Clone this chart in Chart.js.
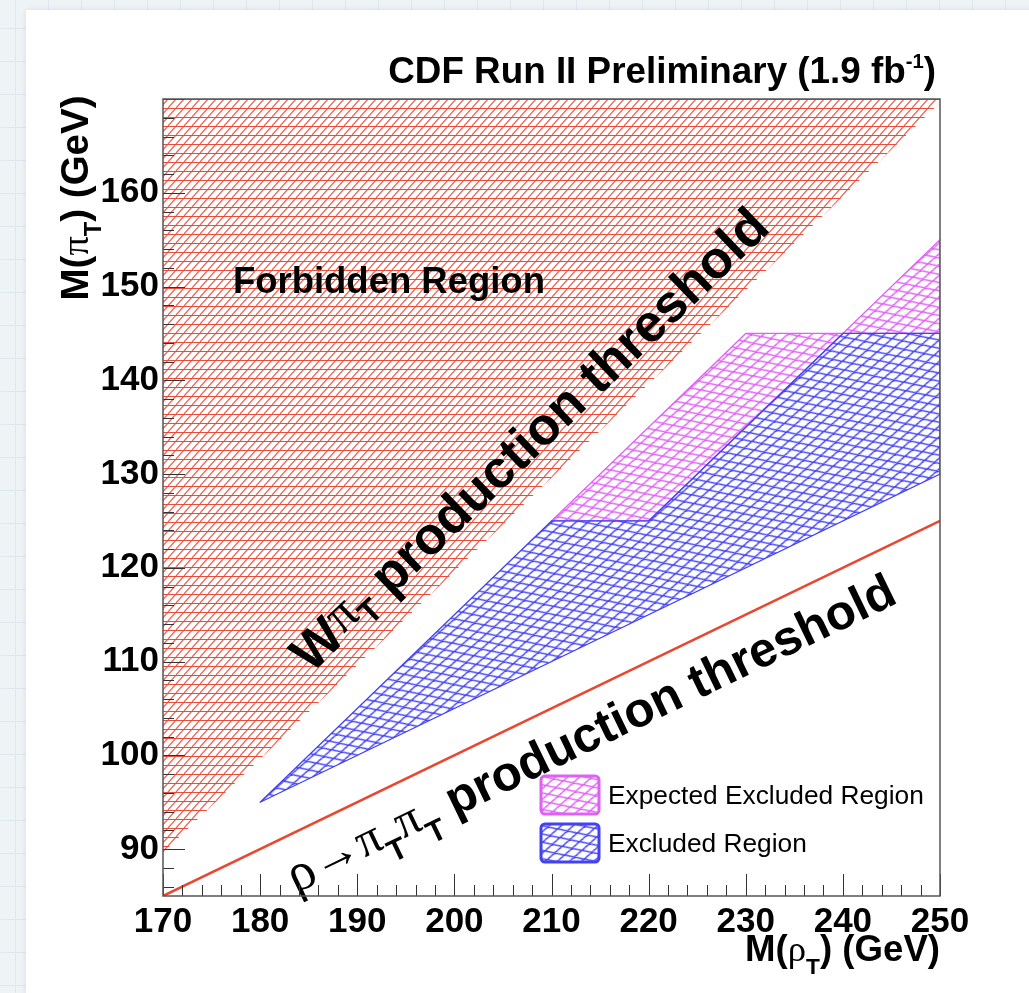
<!DOCTYPE html>
<html><head><meta charset="utf-8">
<script src="https://cdn.jsdelivr.net/npm/chart.js@4.4.0/dist/chart.umd.min.js"></script>
<style>
html,body{margin:0;padding:0;}
body{width:1029px;height:993px;overflow:hidden;position:relative;
 background-color:#eef3f5;
 background-image:linear-gradient(#dce9ef 1px,transparent 1px),linear-gradient(90deg,#dce9ef 1px,transparent 1px);
 background-size:33px 33px;background-position:15px 28px;}
#panel{position:absolute;left:26px;top:10px;width:1010px;height:1000px;background:#fff;box-shadow:0 0 5px rgba(0,0,0,0.10);}
#wrap{position:absolute;left:0;top:0;width:1029px;height:993px;}
</style></head>
<body><div id="panel"></div><div id="wrap"><canvas id="c" width="1029" height="993"></canvas></div>
<script>
// ---------- data ----------
const xRange = [170, 250];
const yRange = [85, 170];
const xTickLabels = [170, 180, 190, 200, 210, 220, 230, 240, 250];
const yTickLabels = [90, 100, 110, 120, 130, 140, 150, 160];
// W pi_T threshold: forbidden region above M(pi_T) = M(rho_T) - M(W)
const forbiddenX = [170, 170, 250, 250];
const forbiddenY = [89.6, 170, 170, 169.6];
// rho -> pi_T pi_T threshold
const rhoThrX = [170, 250];
const rhoThrY = [85, 125];
// observed excluded region (upper and lower edges)
const obsUpperX = [180, 210, 220, 240, 250];
const obsUpperY = [95, 125, 125, 145, 145];
const obsLowerX = [250, 180];
const obsLowerY = [130, 95];
// expected excluded region, upper edge (visible part lies above observed upper edge)
const expUpperX = [210, 230, 240, 250];
const expUpperY = [125, 145, 145, 155];
const legendLabels = ['Expected Excluded Region', 'Excluded Region'];

const pts = (xs, ys) => xs.map((x, i) => ({x, y: ys[i]}));
const forbiddenPoly = pts(forbiddenX, forbiddenY);
const obsPoly = pts(obsUpperX, obsUpperY).concat(pts(obsLowerX, obsLowerY).slice(0, -1));
const expPoly = pts(expUpperX, expUpperY).concat(pts(obsUpperX, obsUpperY).filter(p => p.x >= expUpperX[0]).reverse().slice(0, -1));

// ---------- styles ----------
const SANS = '"Liberation Sans", Arial, Helvetica, sans-serif';
const SERIF = '"Liberation Serif", "DejaVu Serif", serif';
const RED = 'rgb(232,72,50)';
const MAG = 'rgb(222,96,244)';
const BLUE = 'rgb(66,66,242)';

const canvas = document.getElementById('c');
const ctx = canvas.getContext('2d');

function makePattern(w, h, draw, m) {
  const c = document.createElement('canvas'); c.width = w; c.height = h;
  const g = c.getContext('2d'); draw(g, w, h);
  const p = ctx.createPattern(c, 'repeat');
  if (m) p.setTransform(m);
  return p;
}
const redPat = makePattern(8, 9, (g, w, h) => {
  g.lineWidth = 1.2;
  g.strokeStyle = 'rgba(232,70,50,0.85)';
  g.beginPath();
  for (let k = -1; k <= 1; k++) { g.moveTo(k * w, h); g.lineTo(k * w + w, 0); }
  g.stroke();
  g.lineWidth = 1;
  g.strokeStyle = 'rgba(232,70,50,0.95)';
  g.beginPath(); g.moveTo(0, 0.5); g.lineTo(w, 0.5); g.stroke();
});
function diamondPat(color) {
  return makePattern(18, 9, (g, w, h) => {
    g.lineWidth = 1.5; g.strokeStyle = color;
    g.beginPath();
    for (let k = -1; k <= 1; k++) {
      g.moveTo(k * w, 0); g.lineTo(k * w + w, h);
      g.moveTo(k * w, h); g.lineTo(k * w + w, 0);
    }
    g.stroke();
  }, new DOMMatrix().rotate(-15));
}
const magPat = diamondPat(MAG);
const bluePat = diamondPat(BLUE);

// ---------- rich text helpers ----------
const B = (t, k = 1, dy = 0) => ({t, k, dy, w: 'bold', f: SANS});
const G = (t, k = 1, dy = 0) => ({t, k, dy, w: 'normal', f: SERIF});
const R = (t, k = 1, dy = 0) => ({t, k, dy, w: 'normal', f: SANS});
function measureRich(c, segs, size) {
  let w = 0;
  for (const s of segs) { c.font = `${s.w} ${s.k * size}px ${s.f}`; w += c.measureText(s.t).width; }
  return w;
}
function drawRich(c, segs, o) {
  let size = o.size;
  if (o.width) size = size * o.width / measureRich(c, segs, size);
  const total = measureRich(c, segs, size);
  c.save();
  c.translate(o.x, o.y);
  c.rotate(o.angle || 0);
  c.fillStyle = o.color || '#000';
  c.textBaseline = 'alphabetic';
  c.textAlign = 'left';
  let cx = o.align === 'left' ? 0 : o.align === 'right' ? -total : -total / 2;
  const base = 0.36 * size;
  for (const s of segs) {
    c.font = `${s.w} ${s.k * size}px ${s.f}`;
    c.fillText(s.t, cx, base + s.dy * size);
    cx += c.measureText(s.t).width;
  }
  c.restore();
  return size;
}

function polyPath(c, meta) {
  c.beginPath();
  meta.data.forEach((p, i) => i ? c.lineTo(p.x, p.y) : c.moveTo(p.x, p.y));
  c.closePath();
}

const deco = {
  id: 'deco',
  beforeDatasetDraw(chart, args) {
    const ds = chart.data.datasets[args.index];
    if (!ds.hatch) return;
    const c = chart.ctx, A = chart.chartArea;
    c.save();
    c.beginPath(); c.rect(A.left, A.top, A.right - A.left, A.bottom - A.top); c.clip();
    polyPath(c, args.meta);
    c.fillStyle = ds.hatch; c.fill();
    if (ds.outline) { c.strokeStyle = ds.outline; c.lineWidth = 1.3; c.lineJoin = 'round'; c.stroke(); }
    c.restore();
  },
  afterDatasetsDraw(chart) {
    const c = chart.ctx, xs = chart.scales.x, ys = chart.scales.y;
    const X = v => xs.getPixelForValue(v), Y = v => ys.getPixelForValue(v);
    const ang = (x0, y0, x1, y1) => Math.atan2(Y(y1) - Y(y0), X(x1) - X(x0));
    // annotations
    drawRich(c, [B('Forbidden Region')], {x: X(177.2), y: Y(150.7), align: 'left', size: 36, width: 312});
    drawRich(c, [B('W'), G('π', 1, -0.12), B('T', 0.62, 0.12), B(' production threshold')],
      {x: X(207.6), y: Y(133.8), angle: ang(forbiddenX[0], forbiddenY[0], forbiddenX[3], forbiddenY[3]), size: 50, width: 640});
    drawRich(c, [G('ρ', 1.1), G('→', 1, -0.05), G('π', 1, -0.05), B('T', 0.62, 0.3), G('π', 1, -0.05), B('T', 0.62, 0.3), B(' production threshold')],
      {x: X(213.96), y: Y(102.5), angle: ang(rhoThrX[0], rhoThrY[0], rhoThrX[1], rhoThrY[1]), size: 44, width: 670});
    // legend
    const entries = [{pat: magPat, col: MAG}, {pat: bluePat, col: BLUE}];
    let lsize = null;
    entries.forEach((e, i) => {
      const bx = 541, by = 776 + i * 48, bw = 58, bh = 38;
      c.save();
      c.beginPath(); c.roundRect(bx, by, bw, bh, 4);
      c.fillStyle = '#fff'; c.fill();
      c.fillStyle = e.pat; c.fill();
      c.lineWidth = 3; c.strokeStyle = e.col; c.stroke();
      c.restore();
      const o = {x: 608, y: by + bh / 2, align: 'left', size: lsize || 26};
      if (!lsize) o.width = 316;
      const s = drawRich(c, [R(legendLabels[i])], o);
      if (!lsize) lsize = s;
    });
  },
  afterDraw(chart) {
    const c = chart.ctx, xs = chart.scales.x, ys = chart.scales.y, A = chart.chartArea;
    c.save();
    c.strokeStyle = '#333'; c.lineWidth = 1;
    c.beginPath();
    for (let v = xRange[0]; v <= xRange[1]; v += 2) {
      const px = Math.round(xs.getPixelForValue(v)) + 0.5;
      const len = v % 10 === 0 ? 22 : 11;
      c.moveTo(px, A.bottom); c.lineTo(px, A.bottom - len);
    }
    for (let v = 86; v <= yRange[1]; v += 2) {
      const py = Math.round(ys.getPixelForValue(v)) + 0.5;
      const len = v % 10 === 0 ? 22 : 11;
      c.moveTo(A.left, py); c.lineTo(A.left + len, py);
    }
    c.stroke();
    c.strokeStyle = '#555'; c.lineWidth = 1.5;
    c.strokeRect(A.left, A.top, A.right - A.left, A.bottom - A.top);
    c.restore();
    // title and axis titles
    drawRich(c, [B('CDF Run II Preliminary (1.9 fb'), B('-1', 0.55, -0.42), B(')')], {x: 936, y: 70, align: 'right', size: 36, width: 548});
    drawRich(c, [B('M('), G('ρ'), B('T', 0.62, 0.35), B(') (GeV)')], {x: A.right, y: 948, align: 'right', size: 34, width: 195});
    drawRich(c, [B('M('), G('π'), B('T', 0.62, 0.35), B(') (GeV)')], {x: 74, y: 198, angle: -Math.PI / 2, align: 'center', size: 30, width: 205});
  }
};

const tickFont = {family: SANS, size: 35, weight: 'bold'};
new Chart(ctx, {
  type: 'scatter',
  data: {datasets: [
    {label: 'Forbidden Region', data: forbiddenPoly, showLine: false, pointRadius: 0, hatch: redPat, order: 5},
    {label: legendLabels[0], data: expPoly, showLine: false, pointRadius: 0, hatch: magPat, outline: MAG, order: 4},
    {label: legendLabels[1], data: obsPoly, showLine: false, pointRadius: 0, hatch: bluePat, outline: BLUE, order: 3},
    {label: 'rho threshold', data: pts(rhoThrX, rhoThrY), showLine: true, fill: false, borderColor: RED, borderWidth: 2.5, pointRadius: 0, order: 1}
  ]},
  options: {
    responsive: false, animation: false, events: [],
    layout: {padding: {left: 0, top: 99, right: 89, bottom: 0}},
    plugins: {legend: {display: false}, tooltip: {enabled: false}},
    scales: {
      x: {type: 'linear', min: xRange[0], max: xRange[1],
        afterBuildTicks: s => { s.ticks = xTickLabels.map(v => ({value: v})); },
        afterFit: s => { s.height = 97; },
        grid: {display: false, drawTicks: false}, border: {display: false},
        ticks: {font: tickFont, color: '#000', padding: 5, maxRotation: 0, autoSkip: false, callback: v => String(v)}},
      y: {type: 'linear', min: yRange[0], max: yRange[1],
        afterBuildTicks: s => { s.ticks = yTickLabels.map(v => ({value: v})); },
        afterFit: s => { s.width = 163; },
        grid: {display: false, drawTicks: false}, border: {display: false},
        ticks: {font: tickFont, color: '#000', padding: 4, autoSkip: false, callback: v => String(v)}}
    }
  },
  plugins: [deco]
});
</script>
</body></html>
